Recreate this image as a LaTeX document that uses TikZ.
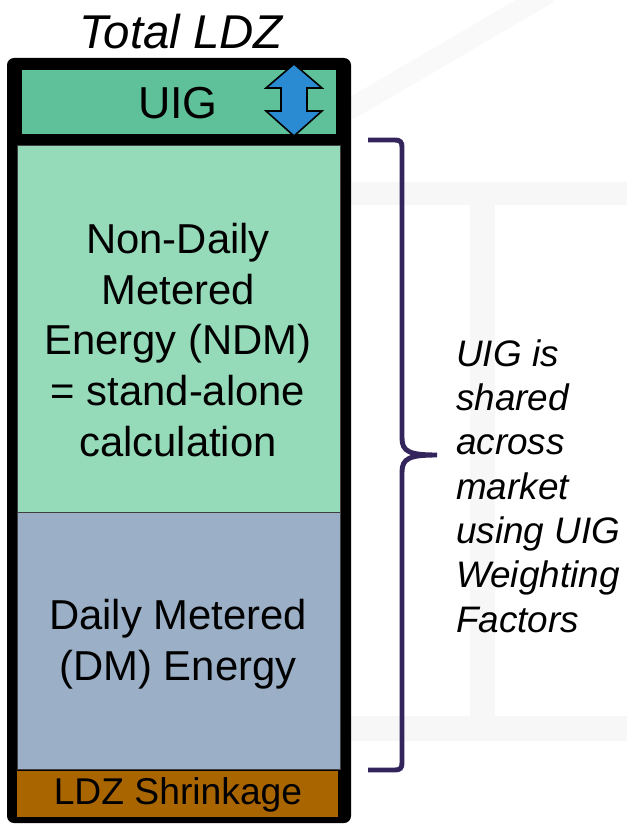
\documentclass[tikz,border=0pt]{standalone}
\usepackage{fontspec}
\setmainfont{Liberation Sans}
\usetikzlibrary{calc}

\definecolor{uigfill}{HTML}{5FC19A}
\definecolor{ndmfill}{HTML}{95DBBA}
\definecolor{dmfill}{HTML}{9BB0C7}
\definecolor{shrfill}{HTML}{A96500}
\definecolor{arrowblue}{HTML}{2A8AD2}
\definecolor{bracepurple}{HTML}{34245C}
\definecolor{faint}{HTML}{F7F7F7}
\definecolor{fainter}{HTML}{F9F9F9}

\tikzset{
  part/.style={draw=black!75, line width=0.5pt},
  lbl/.style={align=center, font=\fontsize{23.8}{28.9}\selectfont},
  note/.style={align=left, anchor=west, font=\fontsize{21}{25.2}\selectfont\itshape},
}

\begin{document}
\begin{tikzpicture}[x=0.02cm,y=-0.02cm]
    \useasboundingbox (0,0) rectangle (627,824);
    % faint frame in the back
    \draw[fainter, line width=12pt, line cap=round] (352,108) -- (545,-5);
    \fill[faint] (245,182) rectangle (627,205);
    \fill[faint] (470,205) rectangle (495,716);
    \fill[faint] (245,716) rectangle (627,741);
    \coordinate (O0) at (7,58);
    \coordinate (O1) at (351,823);
    \coordinate (U0) at (22,70);
    \coordinate (U1) at (336,134);
    \coordinate (N0) at (17,145);
    \coordinate (N1) at (340,512);
    \coordinate (D0) at (17,512);
    \coordinate (D1) at (340,769);
    \coordinate (S0) at (17,771);
    \coordinate (S1) at (338,817);
      \fill[black, rounded corners=4pt] (O0) rectangle (O1);
      \fill[uigfill] (U0) rectangle (U1);
      \filldraw[ndmfill, part] (N0) rectangle (N1);
      \filldraw[dmfill, part] (D0) rectangle (D1);
      \fill[shrfill] (S0) rectangle (S1);
      % up and down arrow
      \draw[fill=arrowblue, line width=0.9pt] (294,64) -- (322,88)
        -- (307,88) -- (307,111) -- (322,111) -- (294,136)
        -- (266,111) -- (281,111) -- (281,88) -- (266,88) -- cycle;
      % brace
      \draw[bracepurple, line width=2.8pt] (368,140) -- (395,140)
        .. controls (400,140) and (402,142) .. (402,147) -- (402,438)
        .. controls (402,452) and (410,455) .. (437,455)
        .. controls (410,455) and (402,458) .. (402,472) -- (402,763)
        .. controls (402,768) and (400,770) .. (395,770) -- (368,770);
      \node [font=\fontsize{27}{30}\selectfont\itshape] (total) at (181,32) {Total LDZ};
      \node [font=\fontsize{25.5}{30}\selectfont] (uig) at (178,103) {UIG};
      \node [lbl] (ndm) at (178,340) {Non-Daily\\Metered\\Energy (NDM)\\= stand-alone\\calculation};
      \node [lbl] (dm) at (178,644) {Daily Metered\\(DM) Energy};
      \node [font=\fontsize{21.2}{24}\selectfont] (shrink) at (178,795) {LDZ Shrinkage};
      \node [note] (share) at (450,486) {UIG is\\shared\\across\\market\\using UIG\\Weighting\\Factors};
  \end{tikzpicture}
\end{document}
